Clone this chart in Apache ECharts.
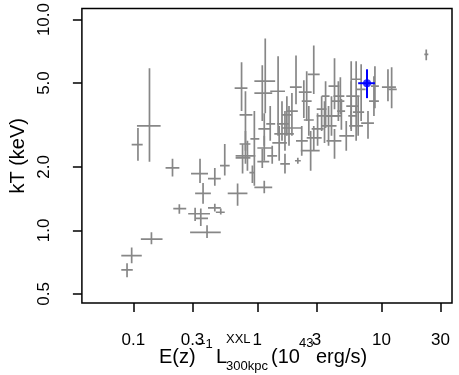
<!DOCTYPE html>
<html>
<head>
<meta charset="utf-8">
<script src="https://cdn.jsdelivr.net/npm/echarts@6/dist/echarts.min.js"></script>
<style>
  html, body { margin: 0; padding: 0; background: #fff; }
  #chart { width: 459px; height: 375px; }
</style>
</head>
<body>
<div id="chart"></div>
<script>
// kT vs luminosity for the XXL clusters, log-log, error crosses

// luminosity E(z)^-1 L_300kpc (10^43 erg/s) with lower / upper bounds
const lum    = [0.097, 0.089, 0.140, 0.109, 0.135, 0.207, 0.235, 0.315, 0.350, 0.393, 0.454, 0.507, 0.345, 0.365, 0.454, 0.546, 0.693, 0.760, 0.746, 0.802, 1.158, 1.096, 1.137, 0.946, 1.270, 0.802, 0.832, 1.096, 0.912, 1.318, 1.137, 1.47, 2.05, 2.85, 2.37, 2.50, 4.19, 4.67, 3.55, 6.26, 6.87, 5.71, 8.71, 5.71, 6.50, 8.87, 7.80, 11.3, 12.1, 23.0, 3.30, 1.73, 3.96, 1.67, 1.50, 1.80, 1.67, 2.12, 2.69, 2.60, 3.48, 3.75, 5.71, 2.85, 4.50, 1.137, 1.58, 4.76, 6.26, 5.21, 4.19, 1.90, 3.06, 2.28]
const lumLo  = [0.080, 0.080, 0.115, 0.097, 0.107, 0.182, 0.210, 0.277, 0.315, 0.287, 0.400, 0.463, 0.292, 0.315, 0.400, 0.500, 0.577, 0.668, 0.656, 0.719, 0.946, 0.946, 1.019, 0.879, 1.180, 0.719, 0.668, 1.000, 0.863, 1.202, 0.946, 1.27, 1.83, 2.55, 2.16, 2.28, 3.75, 4.11, 3.30, 5.71, 6.26, 5.21, 7.95, 5.21, 5.90, 8.25, 6.87, 10.1, 11.4, 22.2, 3.01, 1.58, 3.48, 1.37, 1.32, 1.58, 1.53, 2.01, 2.24, 2.37, 3.01, 3.30, 5.41, 2.50, 3.96, 1.000, 1.44, 4.40, 5.50, 4.58, 3.61, 1.70, 2.74, 2.05]
const lumHi  = [0.117, 0.099, 0.172, 0.119, 0.166, 0.235, 0.267, 0.415, 0.400, 0.507, 0.507, 0.546, 0.400, 0.422, 0.507, 0.598, 0.832, 0.879, 0.832, 0.912, 1.392, 1.318, 1.270, 1.037, 1.392, 0.879, 0.964, 1.247, 0.946, 1.443, 1.318, 1.67, 2.28, 3.18, 2.74, 2.74, 4.58, 5.03, 3.82, 6.87, 7.46, 6.66, 9.55, 6.50, 7.26, 9.55, 8.71, 13.1, 13.3, 23.9, 3.61, 1.90, 4.50, 1.97, 1.73, 2.28, 1.83, 2.24, 3.18, 2.85, 4.76, 4.35, 6.26, 3.30, 5.03, 1.318, 1.80, 5.10, 7.10, 6.04, 4.76, 2.12, 3.42, 2.55]
// temperature kT (keV) with lower / upper bounds
const kT     = [0.76, 0.65, 0.91, 2.55, 3.13, 1.98, 1.27, 1.20, 1.14, 0.98, 1.28, 1.22, 1.86, 1.50, 1.76, 2.03, 1.50, 2.21, 4.73, 3.53, 5.10, 4.48, 3.03, 2.72, 3.20, 2.57, 2.26, 2.12, 1.88, 2.26, 1.60, 4.57, 4.78, 5.50, 4.53, 4.10, 4.83, 4.33, 4.33, 5.21, 4.67, 4.33, 4.10, 3.89, 3.64, 4.83, 3.23, 4.78, 4.67, 6.84, 3.76, 3.53, 3.49, 2.87, 2.60, 3.06, 2.07, 2.14, 2.39, 3.34, 3.49, 3.13, 3.49, 2.75, 4.10, 2.46, 3.20, 3.68, 3.13, 2.81, 2.66, 3.68, 3.03, 2.66]
const kTLo   = [0.70, 0.60, 0.86, 2.14, 2.12, 1.80, 1.20, 1.11, 1.05, 0.92, 1.23, 1.19, 1.68, 1.34, 1.63, 1.82, 1.31, 1.86, 3.68, 2.39, 3.60, 3.30, 2.52, 1.63, 2.66, 2.07, 1.92, 1.98, 1.68, 2.07, 1.50, 2.81, 3.97, 4.43, 3.41, 3.30, 3.76, 3.56, 3.06, 3.60, 3.30, 3.13, 3.49, 2.96, 2.81, 3.80, 2.72, 4.10, 3.80, 6.41, 2.96, 2.81, 2.81, 2.39, 2.14, 2.52, 1.86, 2.07, 1.92, 2.81, 2.60, 2.52, 3.03, 2.39, 3.30, 2.14, 2.66, 3.00, 2.66, 2.39, 2.19, 2.81, 2.52, 2.26]
const kTHi   = [0.83, 0.70, 0.98, 3.06, 5.87, 2.19, 1.33, 1.28, 1.27, 1.06, 1.34, 1.27, 2.19, 1.68, 1.98, 2.57, 1.67, 2.57, 6.27, 4.57, 8.13, 6.07, 3.60, 3.68, 3.89, 2.96, 2.66, 2.44, 2.03, 2.52, 1.72, 6.69, 6.76, 7.54, 5.16, 5.69, 6.55, 5.33, 5.10, 6.34, 6.13, 6.34, 5.38, 5.10, 4.33, 6.00, 3.68, 5.81, 5.94, 7.22, 4.33, 4.33, 4.33, 3.68, 3.13, 3.89, 2.31, 2.21, 2.96, 3.89, 4.10, 3.89, 3.68, 3.13, 5.10, 2.81, 4.10, 4.20, 3.89, 3.30, 3.03, 4.48, 3.60, 3.13]

// highlighted cluster
const hlLum = [7.66], hlLumLo = [6.50], hlLumHi = [8.87]
const hlKT = [4.99], hlKTLo = [4.24], hlKTHi = [5.81]

const xTicks = [0.1, 0.3, 1, 3, 10, 30]
const yTicks = [0.5, 1, 2, 5, 10]

const FONT = '"Liberation Sans", Arial, Helvetica, sans-serif'
const GRAY = '#878787'

function rows(x, xl, xh, y, yl, yh) {
  return x.map((v, i) => [v, xl[i], xh[i], y[i], yl[i], yh[i]])
}

function crossRenderer(color, width) {
  return function (params, api) {
    const x = api.value(0), y = api.value(3)
    const l = api.coord([api.value(1), y])
    const r = api.coord([api.value(2), y])
    const b = api.coord([x, api.value(4)])
    const t = api.coord([x, api.value(5)])
    const st = { stroke: color, lineWidth: width }
    return {
      type: 'group',
      children: [
        { type: 'line', shape: { x1: l[0], y1: l[1], x2: r[0], y2: r[1] }, style: st },
        { type: 'line', shape: { x1: b[0], y1: b[1], x2: t[0], y2: t[1] }, style: st }
      ]
    }
  }
}

const chart = echarts.init(document.getElementById('chart'), null, { renderer: 'canvas' })

// axis title pieces (super/subscripts), x = left edge, y = middle of text
const piece = (text, x, y, size) => ({
  type: 'text', x, y,
  style: { text, fill: '#000', font: `${size}px ${FONT}`, align: 'left', verticalAlign: 'middle' }
})

chart.setOption({
  animation: false,
  textStyle: { fontFamily: FONT },
  grid: {
    left: 78, right: 7, top: 7, bottom: 72,
    show: true, borderColor: '#000', borderWidth: 1.5, backgroundColor: 'transparent'
  },
  xAxis: {
    type: 'log', logBase: 10, min: 0.0385, max: 37.1,
    axisLine: { show: false },
    splitLine: { show: false },
    axisTick: { show: true, length: 9, customValues: xTicks, lineStyle: { color: '#000', width: 1.5 } },
    axisLabel: { customValues: xTicks, margin: 29, color: '#000', fontSize: 17, fontFamily: FONT,
      formatter: v => String(+(+v).toPrecision(3)) }
  },
  yAxis: {
    type: 'log', logBase: 10, min: 0.453, max: 11.27,
    name: 'kT (keV)', nameLocation: 'middle', nameGap: 49,
    nameTextStyle: { color: '#000', fontSize: 20, fontFamily: FONT },
    axisLine: { show: false },
    splitLine: { show: false },
    axisTick: { show: true, length: 9, customValues: yTicks, lineStyle: { color: '#000', width: 1.5 } },
    axisLabel: { customValues: yTicks, margin: 29, rotate: 90, color: '#000', fontSize: 17, fontFamily: FONT,
      formatter: v => (+v).toFixed(1) }
  },
  graphic: [
    piece('E(z)', 159, 357, 20),
    piece('\u22121', 198, 344, 13),
    piece('L', 216, 357, 20),
    piece('XXL', 226, 339, 13),
    piece('300kpc', 226, 366, 13),
    piece('(10', 271, 357, 20),
    piece('43', 299, 343, 13),
    piece('erg/s)', 316, 357, 20)
  ],
  series: [
    {
      type: 'custom',
      renderItem: crossRenderer(GRAY, 1.7),
      data: rows(lum, lumLo, lumHi, kT, kTLo, kTHi),
      encode: { x: [0, 1, 2], y: [3, 4, 5] },
      clip: true, silent: true
    },
    {
      type: 'custom',
      renderItem: crossRenderer('#0000ff', 2),
      data: rows(hlLum, hlLumLo, hlLumHi, hlKT, hlKTLo, hlKTHi),
      encode: { x: [0, 1, 2], y: [3, 4, 5] },
      z: 3, silent: true
    },
    {
      type: 'scatter',
      data: hlLum.map((v, i) => [v, hlKT[i]]),
      symbol: 'circle', symbolSize: 8,
      itemStyle: { color: '#0000ff' },
      z: 4, silent: true
    }
  ]
})
</script>
</body>
</html>
